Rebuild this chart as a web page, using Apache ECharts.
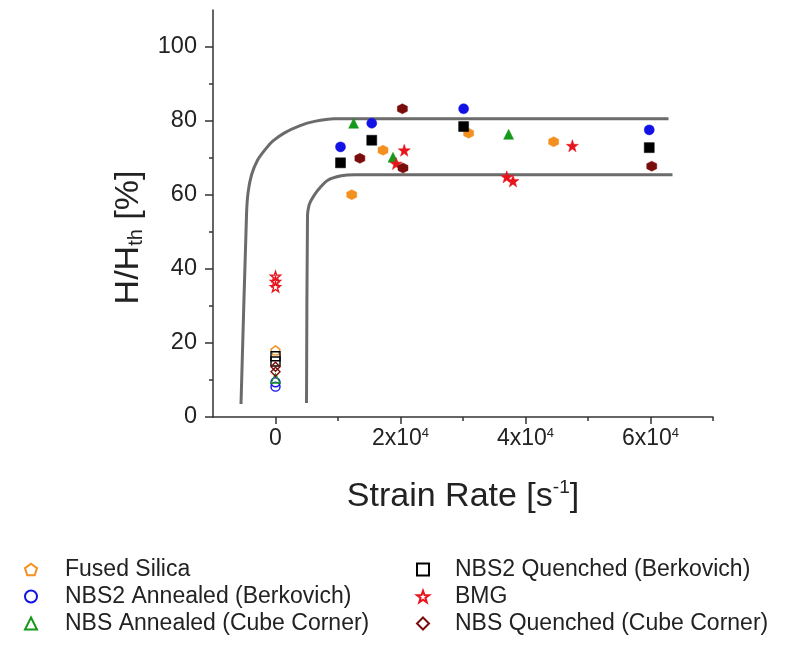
<!DOCTYPE html>
<html>
<head>
<meta charset="utf-8">
<script src="https://cdn.jsdelivr.net/npm/echarts@6/dist/echarts.min.js"></script>
<style>
  html, body { margin: 0; padding: 0; background: #fff; }
  #chart { width: 791px; height: 646px; }
</style>
</head>
<body>
<div id="chart"></div>
<script>
// Hardness ratio H/Hth versus strain rate.
// Points at zero strain rate are quasi-static (hollow); the rest are high-rate tests (filled).

const seriesNames = [
  'Fused Silica',
  'NBS2 Annealed (Berkovich)',
  'NBS Annealed (Cube Corner)',
  'NBS2 Quenched (Berkovich)',
  'BMG',
  'NBS Quenched (Cube Corner)'
];

// quasi-static [strain rate, H/Hth]
const fusedSilicaStatic = [[0, 18.0]];
const nbs2AnnealedStatic = [[0, 9.4], [0, 8.2]];
const nbsAnnealedStatic = [[0, 10.4]];
const nbs2QuenchedStatic = [[0, 16.4], [0, 15.0]];
const bmgStatic = [[0, 38.0], [0, 36.6], [0, 35.2]];
const nbsQuenchedStatic = [[0, 13.6], [0, 12.2]];

// high strain rate [strain rate, H/Hth]
const fusedSilicaDynamic = [[12200, 60.1], [17200, 72.1], [30900, 76.7], [44500, 74.4]];
const nbs2AnnealedDynamic = [[10400, 73.0], [15400, 79.4], [30100, 83.3], [59800, 77.6]];
const nbsAnnealedDynamic = [[12500, 79.4], [18800, 70.2], [37300, 76.4]];
const nbs2QuenchedDynamic = [[10400, 68.7], [15400, 74.8], [30100, 78.5], [59800, 72.8]];
const bmgDynamic = [[19300, 68.5], [20600, 72.1], [37000, 64.9], [38000, 63.8], [47500, 73.3]];
const nbsQuenchedDynamic = [[13500, 69.9], [20300, 83.3], [20400, 67.3], [60200, 67.8]];

// guide envelopes
const upperBound = [[-5520, 3.5], [-4640, 54.5], [-4400, 60.5], [-3840, 65.4], [-2880, 69.4],
  [-1600, 72.4], [-400, 74.6], [1440, 76.8], [3840, 78.7], [6240, 79.9], [9440, 80.6], [62880, 80.6]];
const lowerBound = [[4960, 3.8], [5120, 54.5], [5360, 57.2], [5710, 58.6], [6770, 61.3],
  [8370, 64.0], [10510, 65.2], [12640, 65.5], [63520, 65.5]];

const yTickValues = [0, 20, 40, 60, 80, 100];
const yMinorValues = [10, 30, 50, 70, 90];
const xTickValues = [0, 20000, 40000, 60000];
const xMinorValues = [10000, 30000, 50000, 70000];

const colors = ['#f39020', '#1212e6', '#16981a', '#000000', '#e8141c', '#7a0c0c'];

const PENTAGON = 'path://M0,-10 L9.51,-3.09 L5.88,8.09 L-5.88,8.09 L-9.51,-3.09 Z';
const STAR = 'path://M0,-10 L2.35,-3.24 L9.51,-3.09 L3.8,1.24 L5.88,8.09 L0,4 L-5.88,8.09 L-3.8,1.24 L-9.51,-3.09 L-2.35,-3.24 Z';
const HEXAGON = 'path://M0,-10 L8.66,-5 L8.66,5 L0,10 L-8.66,5 L-8.66,-5 Z';

const symbols = [PENTAGON, 'circle', 'triangle', 'rect', STAR, 'diamond'];
const filledSymbols = [HEXAGON, 'circle', 'triangle', 'rect', STAR, HEXAGON];
const staticSets = [fusedSilicaStatic, nbs2AnnealedStatic, nbsAnnealedStatic, nbs2QuenchedStatic, bmgStatic, nbsQuenchedStatic];
const dynamicSets = [fusedSilicaDynamic, nbs2AnnealedDynamic, nbsAnnealedDynamic, nbs2QuenchedDynamic, bmgDynamic, nbsQuenchedDynamic];

const FONT = '"Liberation Sans", Arial, sans-serif';

const scatterSeries = seriesNames.map((name, i) => ({
  name: name,
  type: 'scatter',
  symbol: symbols[i],
  symbolSize: i === 4 ? 10 : 9,
  z: 3,
  itemStyle: { color: 'rgba(255,255,255,0)', borderColor: colors[i], borderWidth: 1.4, opacity: 1 },
  emphasis: { disabled: true },
  data: staticSets[i].map(p => ({ value: p }))
    .concat(dynamicSets[i].map(p => ({
      value: p,
      symbol: filledSymbols[i],
      symbolSize: i === 4 ? 12 : 10,
      itemStyle: { color: colors[i], borderColor: colors[i], borderWidth: 0.5 }
    })))
}));

const boundSeries = [upperBound, lowerBound].map(d => ({
  type: 'line',
  data: d,
  symbol: 'none',
  smooth: 0.25,
  z: 1,
  silent: true,
  lineStyle: { color: '#6b6b6b', width: 3 }
}));

const axisLineStyle = { color: '#333', width: 1.5 };

const legendText = { fontSize: 23, color: '#222', fontFamily: FONT };

const option = {
  animation: false,
  textStyle: { fontFamily: FONT },
  grid: { left: 213, right: 78, top: 10, bottom: 229, containLabel: false },
  xAxis: [{
    type: 'value',
    min: -10000, max: 70000, interval: 10000,
    position: 'bottom',
    splitLine: { show: false },
    axisLine: { lineStyle: axisLineStyle, onZero: false },
    axisTick: { customValues: xTickValues, length: 7, lineStyle: axisLineStyle },
    axisLabel: {
      customValues: xTickValues,
      fontSize: 23, color: '#222', margin: 10, fontFamily: FONT,
      formatter: v => v === 0 ? '0' : (v / 10000) + 'x10{sup|4}',
      rich: { sup: { fontSize: 13, verticalAlign: 'top', lineHeight: 13, fontFamily: FONT, color: '#222' } }
    },
    name: '{a|Strain Rate [s}{sup|-1}{a|]}',
    nameLocation: 'middle', nameGap: 61,
    nameTextStyle: {
      rich: {
        a: { fontSize: 34, color: '#222', fontFamily: FONT, lineHeight: 37 },
        sup: { fontSize: 19, color: '#222', fontFamily: FONT, verticalAlign: 'top', lineHeight: 19 }
      }
    }
  }, {
    type: 'value',
    min: -10000, max: 70000, interval: 10000,
    position: 'bottom',
    splitLine: { show: false },
    axisLine: { show: false, onZero: false },
    axisTick: { customValues: xMinorValues, length: 4, lineStyle: axisLineStyle },
    axisLabel: { show: false }
  }],
  yAxis: [{
    type: 'value',
    min: 0, max: 110, interval: 10,
    position: 'left',
    splitLine: { show: false },
    axisLine: { show: true, lineStyle: axisLineStyle, onZero: false },
    axisTick: { show: true, customValues: yTickValues, length: 8, lineStyle: axisLineStyle },
    axisLabel: { customValues: yTickValues, fontSize: 23.5, color: '#222', margin: 16, fontFamily: FONT },
    name: '{a|H/H}{sub|th}{a| [%]}',
    nameLocation: 'middle', nameRotate: 90, nameGap: 43,
    nameTextStyle: {
      padding: [0, 48, 0, 0],
      rich: {
        a: { fontSize: 34, color: '#222', fontFamily: FONT, lineHeight: 37 },
        sub: { fontSize: 20, color: '#222', fontFamily: FONT, verticalAlign: 'bottom', lineHeight: 20 }
      }
    }
  }, {
    type: 'value',
    min: 0, max: 110, interval: 10,
    position: 'left',
    splitLine: { show: false },
    axisLine: { show: false, onZero: false },
    axisTick: { show: true, customValues: yMinorValues, length: 4, lineStyle: axisLineStyle },
    axisLabel: { show: false }
  }],
  legend: [{
    data: seriesNames.slice(0, 3),
    orient: 'vertical', left: 19, top: 553,
    itemGap: 4, itemWidth: 12, itemHeight: 12,
    textStyle: Object.assign({ padding: [0, 0, 0, 23] }, legendText),
    selectedMode: false
  }, {
    data: seriesNames.slice(3),
    orient: 'vertical', left: 411, top: 553,
    itemGap: 4, itemWidth: 12, itemHeight: 12,
    textStyle: Object.assign({ padding: [0, 0, 0, 21] }, legendText),
    selectedMode: false
  }],
  series: boundSeries.concat(scatterSeries)
};

const chart = echarts.init(document.getElementById('chart'), null, { renderer: 'canvas' });
chart.setOption(option);
</script>
</body>
</html>
